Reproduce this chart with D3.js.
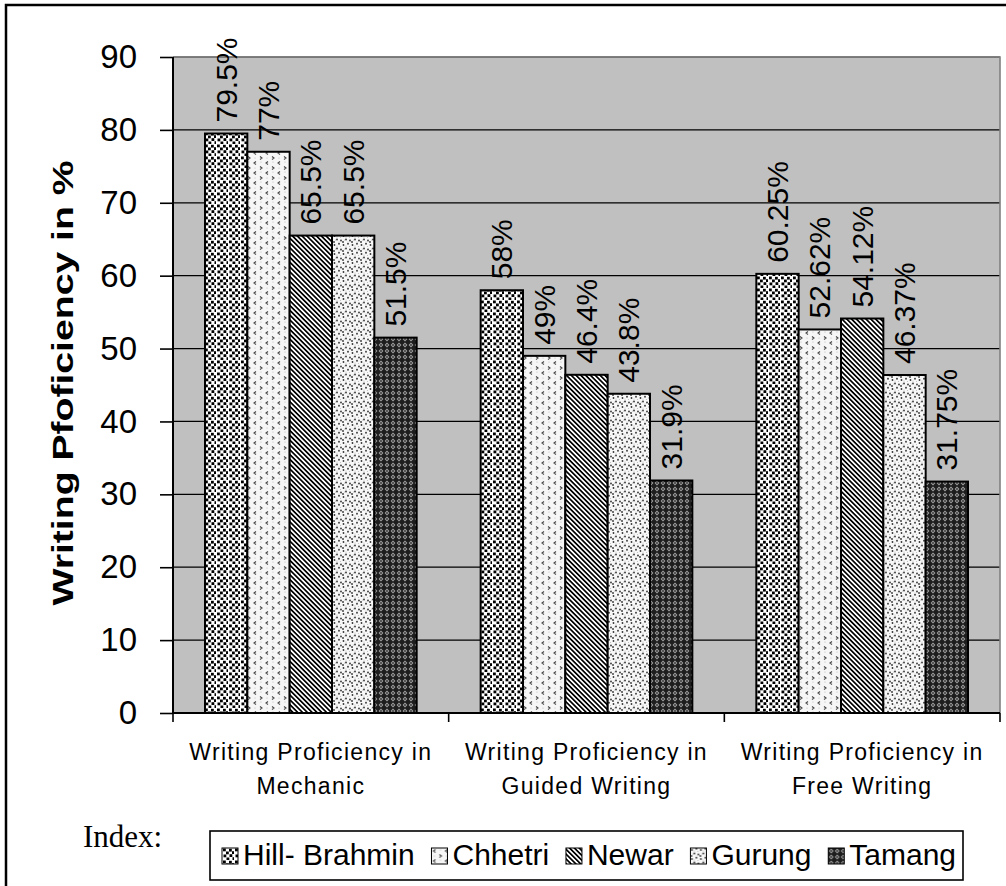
<!DOCTYPE html>
<html><head><meta charset="utf-8">
<script src="https://cdn.jsdelivr.net/npm/d3@7"></script>
<style>body{margin:0;background:#fff}svg{display:block}</style>
</head><body>
<svg id="chart" width="1006" height="886"></svg>
<script>
// ---- data ----
const categories = ["Writing Proficiency in Mechanic", "Writing Proficiency in Guided Writing", "Writing Proficiency in Free Writing"];
const groups = ["Hill- Brahmin", "Chhetri", "Newar", "Gurung", "Tamang"];
const hillBrahmin = [79.5, 58, 60.25];
const chhetri = [77, 49, 52.62];
const newar = [65.5, 46.4, 54.12];
const gurung = [65.5, 43.8, 46.37];
const tamang = [51.5, 31.9, 31.75];
const yTicks = [0, 10, 20, 30, 40, 50, 60, 70, 80, 90];
const yTitle = "Writing Pfoficiency in %";
const indexLabel = "Index:";

const seriesValues = [hillBrahmin, chhetri, newar, gurung, tamang];

// ---- layout ----
const plot = {left: 173, right: 1000, top: 57, bottom: 713};
const svg = d3.select("#chart");
const defs = svg.append("defs");

// fill patterns, one per group
function pattern(id, w, h, build, transform) {
  const p = defs.append("pattern").attr("id", id).attr("patternUnits", "userSpaceOnUse")
    .attr("width", w).attr("height", h);
  if (transform) p.attr("patternTransform", transform);
  build(p);
}
pattern("pat-0", 12, 12, p => {
  p.append("rect").attr("width", 12).attr("height", 12).attr("fill", "#fff");
  [[1, 0.5], [7, 0.8], [4, 3.5], [10, 3.2], [1.5, 6.5], [7.5, 6.2], [4.5, 9.5], [10.5, 9.2]].forEach(([x, y]) =>
    p.append("rect").attr("x", x).attr("y", y).attr("width", 2.8).attr("height", 2.8).attr("fill", "#000"));
});
pattern("pat-1", 12, 10, p => {
  p.append("rect").attr("width", 12).attr("height", 10).attr("fill", "#f6f6f6");
  p.append("path").attr("d", "M4,1.5 L2,3 L4,4.5").attr("fill", "none").attr("stroke", "#444").attr("stroke-width", 1.1);
  p.append("path").attr("d", "M8,6.5 L10,8 L8,9.5").attr("fill", "none").attr("stroke", "#444").attr("stroke-width", 1.1);
  p.append("circle").attr("cx", 9).attr("cy", 2).attr("r", 0.6).attr("fill", "#bbb");
  p.append("circle").attr("cx", 3).attr("cy", 8).attr("r", 0.6).attr("fill", "#bbb");
});
pattern("pat-2", 3.4, 3.4, p => {
  p.append("rect").attr("width", 3.4).attr("height", 3.4).attr("fill", "#fff");
  p.append("rect").attr("width", 3.4).attr("height", 1.7).attr("fill", "#000");
}, "rotate(45)");
pattern("pat-3", 9, 9, p => {
  p.append("rect").attr("width", 9).attr("height", 9).attr("fill", "#f8f8f8");
  [[1.5, 2], [6, 0.8], [4, 5.5], [8, 6.5], [1, 8]].forEach(([x, y]) =>
    p.append("circle").attr("cx", x).attr("cy", y).attr("r", 0.9).attr("fill", "#333"));
  [[4, 3], [7.5, 3.5], [2.5, 6], [6, 8.2]].forEach(([x, y]) =>
    p.append("circle").attr("cx", x).attr("cy", y).attr("r", 0.6).attr("fill", "#bbb"));
});
pattern("pat-4", 6, 6, p => {
  p.append("rect").attr("width", 6).attr("height", 6).attr("fill", "#1e1e1e");
  p.append("path").attr("d", "M3,0.6 L5.4,3 L3,5.4 L0.6,3Z").attr("fill", "#a0a0a0");
  p.append("circle").attr("cx", 3).attr("cy", 3).attr("r", 0.9).attr("fill", "#333");
});

// ---- scales ----
const x0 = d3.scaleBand().domain(categories).range([plot.left, plot.right]).paddingInner(0).paddingOuter(0);
const gap = 32;
const x1 = d3.scaleBand().domain(groups).range([gap, x0.bandwidth() - gap]).paddingInner(0);
const y = d3.scaleLinear().domain([0, 90]).range([plot.bottom, plot.top]);

// outer frame
svg.append("rect").attr("x", 6).attr("y", 5).attr("width", 1020).attr("height", 920)
  .attr("fill", "none").attr("stroke", "#000").attr("stroke-width", 2.5);

// plot background
svg.append("rect").attr("x", plot.left).attr("y", plot.top)
  .attr("width", plot.right - plot.left).attr("height", plot.bottom - plot.top)
  .attr("fill", "#c0c0c0");

// gridlines
svg.append("g").selectAll("line").data(yTicks.filter(t => t > 0)).join("line")
  .attr("x1", plot.left).attr("x2", plot.right)
  .attr("y1", d => y(d)).attr("y2", d => y(d))
  .attr("stroke", "#000").attr("stroke-width", 1.2);

// plot border (top and right)
svg.append("path")
  .attr("d", `M${plot.left},${plot.top}H${plot.right}V${plot.bottom}`)
  .attr("fill", "none").attr("stroke", "#808080").attr("stroke-width", 1.6);

// bars
const barData = [];
categories.forEach((c, ci) => groups.forEach((g, gi) => barData.push({c, g, gi, v: seriesValues[gi][ci]})));

svg.append("g").selectAll("rect").data(barData).join("rect")
  .attr("x", d => x0(d.c) + x1(d.g))
  .attr("y", d => y(d.v))
  .attr("width", x1.bandwidth())
  .attr("height", d => y(0) - y(d.v))
  .attr("fill", d => `url(#pat-${d.gi})`)
  .attr("stroke", "#000").attr("stroke-width", 2);

// value labels
svg.append("g").selectAll("text").data(barData).join("text")
  .attr("transform", d => `translate(${x0(d.c) + x1(d.g) + x1.bandwidth() / 2},${y(d.v) - 11}) rotate(-90)`)
  .attr("text-anchor", "start").attr("dominant-baseline", "central")
  .attr("font-family", "Arial, 'Liberation Sans', sans-serif").attr("font-size", 30)
  .attr("fill", "#000")
  .text(d => d.v + "%");

// y axis
const yAxis = svg.append("g").attr("transform", `translate(${plot.left},0)`)
  .call(d3.axisLeft(y).tickValues(yTicks).tickSize(13).tickPadding(23).tickFormat(d3.format("d")));
yAxis.select(".domain").attr("stroke", "#000").attr("stroke-width", 2).attr("d", `M0,${plot.top}V${plot.bottom}`);
yAxis.selectAll(".tick line").attr("stroke", "#000").attr("stroke-width", 1.6);
yAxis.selectAll(".tick text").attr("font-family", "Arial, 'Liberation Sans', sans-serif")
  .attr("font-size", 33).attr("fill", "#000");

// x axis: baseline with ticks at category boundaries
const xAxis = svg.append("g").attr("transform", `translate(0,${plot.bottom})`)
  .call(d3.axisBottom(x0).tickSize(0).tickFormat(""));
xAxis.select(".domain").attr("stroke", "#000").attr("stroke-width", 2).attr("d", `M${plot.left},0H${plot.right}`);
const bounds = categories.map(c => x0(c)).concat([x0(categories[categories.length - 1]) + x0.bandwidth()]);
xAxis.selectAll(".bound").data(bounds).join("line").attr("class", "bound")
  .attr("x1", d => d).attr("x2", d => d).attr("y1", 0).attr("y2", 9)
  .attr("stroke", "#000").attr("stroke-width", 1.6);

// category labels (two lines)
const catText = svg.append("g").selectAll("text").data(categories).join("text")
  .attr("text-anchor", "middle")
  .attr("font-family", "Arial, 'Liberation Sans', sans-serif").attr("font-size", 23)
  .attr("letter-spacing", 1.3).attr("fill", "#000");
catText.each(function (c) {
  const cx = x0(c) + x0.bandwidth() / 2;
  const idx = c.indexOf(" in ") + 3;
  const lines = [c.slice(0, idx), c.slice(idx + 1)];
  d3.select(this).selectAll("tspan").data(lines).join("tspan")
    .attr("x", cx).attr("y", (d, i) => 760 + i * 34).text(d => d);
});

// y axis title
svg.append("text")
  .attr("transform", "translate(62,383) rotate(-90)")
  .attr("text-anchor", "middle").attr("dominant-baseline", "central")
  .attr("font-family", "Arial, 'Liberation Sans', sans-serif").attr("font-weight", "bold")
  .attr("font-size", 30).attr("textLength", 445).attr("lengthAdjust", "spacingAndGlyphs")
  .text(yTitle);

// legend
svg.append("text").attr("x", 83).attr("y", 847)
  .attr("font-family", "'Times New Roman', 'Liberation Serif', serif").attr("font-size", 31)
  .text(indexLabel);

const box = {x: 210, y: 831, w: 753, h: 49};
svg.append("rect").attr("x", box.x).attr("y", box.y).attr("width", box.w).attr("height", box.h)
  .attr("fill", "#fff").attr("stroke", "#000").attr("stroke-width", 1.6);

const legend = svg.append("g");
const items = legend.selectAll("g").data(groups).join("g");
items.append("rect").attr("width", 16).attr("height", 16)
  .attr("fill", (d, i) => `url(#pat-${i})`).attr("stroke", "#000").attr("stroke-width", 1);
items.append("text").attr("x", 21).attr("y", 17)
  .attr("font-family", "Arial, 'Liberation Sans', sans-serif").attr("font-size", 30)
  .attr("fill", "#000").text(d => d);
const widths = [];
items.select("text").each(function () { widths.push(this.getComputedTextLength()); });
const startX = box.x + 12, endX = box.x + box.w - 7;
const used = d3.sum(widths) + groups.length * 21;
const spacing = (endX - startX - used) / (groups.length - 1);
let cur = startX;
items.each(function (d, i) {
  d3.select(this).attr("transform", `translate(${cur},${848})`);
  cur += 21 + widths[i] + spacing;
});
</script>
</body></html>
